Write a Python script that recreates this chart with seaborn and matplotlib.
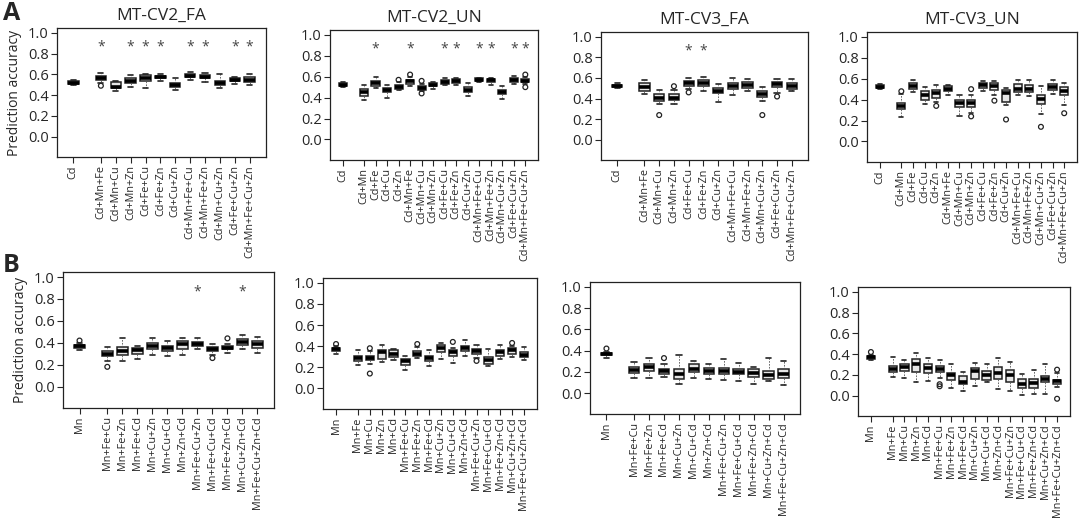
import numpy as np
import pandas as pd
import matplotlib
matplotlib.use("Agg")
import matplotlib.pyplot as plt
import seaborn as sns

# ---------- Tick labels ----------
CD_SHORT = ["Cd", "Cd+Mn+Fe", "Cd+Mn+Cu", "Cd+Mn+Zn", "Cd+Fe+Cu", "Cd+Fe+Zn",
            "Cd+Cu+Zn", "Cd+Mn+Fe+Cu", "Cd+Mn+Fe+Zn", "Cd+Mn+Cu+Zn",
            "Cd+Fe+Cu+Zn", "Cd+Mn+Fe+Cu+Zn"]
CD_LONG = ["Cd", "Cd+Mn", "Cd+Fe", "Cd+Cu", "Cd+Zn", "Cd+Mn+Fe", "Cd+Mn+Cu",
           "Cd+Mn+Zn", "Cd+Fe+Cu", "Cd+Fe+Zn", "Cd+Cu+Zn", "Cd+Mn+Fe+Cu",
           "Cd+Mn+Fe+Zn", "Cd+Mn+Cu+Zn", "Cd+Fe+Cu+Zn", "Cd+Mn+Fe+Cu+Zn"]
MN_SHORT = ["Mn", "Mn+Fe+Cu", "Mn+Fe+Zn", "Mn+Fe+Cd", "Mn+Cu+Zn", "Mn+Cu+Cd",
            "Mn+Zn+Cd", "Mn+Fe+Cu+Zn", "Mn+Fe+Cu+Cd", "Mn+Fe+Zn+Cd",
            "Mn+Cu+Zn+Cd", "Mn+Fe+Cu+Zn+Cd"]
MN_LONG = ["Mn", "Mn+Fe", "Mn+Cu", "Mn+Zn", "Mn+Cd", "Mn+Fe+Cu", "Mn+Fe+Zn",
           "Mn+Fe+Cd", "Mn+Cu+Zn", "Mn+Cu+Cd", "Mn+Zn+Cd", "Mn+Fe+Cu+Zn",
           "Mn+Fe+Cu+Cd", "Mn+Fe+Zn+Cd", "Mn+Cu+Zn+Cd", "Mn+Fe+Cu+Zn+Cd"]

TITLES = ["MT-CV2_FA", "MT-CV2_UN", "MT-CV3_FA", "MT-CV3_UN"]

# ---------- Box stats: (low whisker, q1, median, q3, high whisker) ----------
A_CV2_FA = [(0.50, 0.51, 0.52, 0.535, 0.55), (0.52, 0.55, 0.565, 0.58, 0.61),
            (0.44, 0.465, 0.48, 0.525, 0.54), (0.48, 0.52, 0.54, 0.56, 0.59),
            (0.47, 0.54, 0.565, 0.59, 0.60), (0.54, 0.56, 0.57, 0.585, 0.60),
            (0.45, 0.48, 0.50, 0.52, 0.56), (0.55, 0.57, 0.585, 0.60, 0.62),
            (0.53, 0.56, 0.575, 0.59, 0.61), (0.47, 0.50, 0.52, 0.54, 0.60),
            (0.51, 0.535, 0.545, 0.56, 0.57), (0.50, 0.53, 0.55, 0.57, 0.60)]
A_CV2_UN = [(0.50, 0.51, 0.52, 0.535, 0.55), (0.38, 0.42, 0.45, 0.48, 0.52),
            (0.49, 0.51, 0.54, 0.56, 0.60), (0.40, 0.45, 0.47, 0.49, 0.52),
            (0.47, 0.48, 0.50, 0.52, 0.55), (0.51, 0.53, 0.555, 0.57, 0.60),
            (0.46, 0.47, 0.49, 0.51, 0.53), (0.48, 0.51, 0.525, 0.54, 0.55),
            (0.52, 0.53, 0.55, 0.57, 0.59), (0.52, 0.54, 0.56, 0.575, 0.59),
            (0.42, 0.45, 0.475, 0.50, 0.54), (0.55, 0.56, 0.57, 0.585, 0.59),
            (0.52, 0.55, 0.565, 0.58, 0.59), (0.39, 0.43, 0.45, 0.47, 0.51),
            (0.53, 0.55, 0.565, 0.585, 0.61), (0.53, 0.55, 0.56, 0.58, 0.60)]
A_CV3_FA = [(0.50, 0.51, 0.52, 0.53, 0.55), (0.44, 0.47, 0.51, 0.55, 0.58),
            (0.35, 0.38, 0.41, 0.44, 0.48), (0.35, 0.39, 0.41, 0.44, 0.48),
            (0.49, 0.52, 0.55, 0.57, 0.60), (0.47, 0.52, 0.55, 0.58, 0.61),
            (0.37, 0.45, 0.47, 0.50, 0.54), (0.43, 0.49, 0.52, 0.55, 0.60),
            (0.47, 0.50, 0.53, 0.56, 0.59), (0.38, 0.42, 0.44, 0.47, 0.51),
            (0.45, 0.51, 0.54, 0.56, 0.59), (0.47, 0.49, 0.52, 0.55, 0.59)]
A_CV3_UN = [(0.50, 0.51, 0.52, 0.535, 0.55), (0.23, 0.31, 0.34, 0.37, 0.45),
            (0.47, 0.50, 0.53, 0.56, 0.59), (0.36, 0.40, 0.44, 0.48, 0.52),
            (0.38, 0.42, 0.46, 0.49, 0.54), (0.44, 0.48, 0.50, 0.53, 0.54),
            (0.24, 0.33, 0.37, 0.40, 0.44), (0.27, 0.33, 0.37, 0.40, 0.44),
            (0.48, 0.51, 0.54, 0.56, 0.58), (0.44, 0.49, 0.53, 0.56, 0.58),
            (0.35, 0.38, 0.46, 0.49, 0.51), (0.44, 0.47, 0.50, 0.55, 0.59),
            (0.43, 0.47, 0.50, 0.54, 0.59), (0.26, 0.36, 0.41, 0.44, 0.53),
            (0.45, 0.49, 0.52, 0.55, 0.59), (0.35, 0.44, 0.48, 0.52, 0.56)]
B_CV2_FA = [(0.33, 0.355, 0.37, 0.38, 0.40), (0.23, 0.28, 0.30, 0.32, 0.36),
            (0.23, 0.29, 0.32, 0.36, 0.44), (0.25, 0.30, 0.33, 0.35, 0.37),
            (0.29, 0.34, 0.37, 0.40, 0.44), (0.28, 0.32, 0.35, 0.37, 0.42),
            (0.29, 0.34, 0.39, 0.42, 0.44), (0.34, 0.37, 0.39, 0.41, 0.44),
            (0.29, 0.32, 0.34, 0.36, 0.39), (0.31, 0.34, 0.355, 0.37, 0.39),
            (0.34, 0.38, 0.41, 0.43, 0.47), (0.31, 0.35, 0.39, 0.42, 0.45)]
B_CV2_UN = [(0.33, 0.355, 0.37, 0.38, 0.40), (0.22, 0.26, 0.29, 0.31, 0.36),
            (0.23, 0.27, 0.29, 0.31, 0.35), (0.25, 0.28, 0.34, 0.36, 0.41),
            (0.27, 0.30, 0.33, 0.36, 0.37), (0.17, 0.22, 0.26, 0.28, 0.31),
            (0.29, 0.31, 0.33, 0.35, 0.39), (0.21, 0.26, 0.29, 0.31, 0.36),
            (0.28, 0.34, 0.38, 0.41, 0.43), (0.24, 0.31, 0.34, 0.36, 0.38),
            (0.31, 0.35, 0.38, 0.40, 0.46), (0.29, 0.33, 0.35, 0.37, 0.41),
            (0.21, 0.23, 0.27, 0.30, 0.37), (0.28, 0.31, 0.34, 0.36, 0.41),
            (0.30, 0.33, 0.36, 0.38, 0.40), (0.27, 0.30, 0.32, 0.34, 0.39)]
B_CV3_FA = [(0.33, 0.355, 0.37, 0.38, 0.39), (0.14, 0.19, 0.22, 0.25, 0.29),
            (0.14, 0.21, 0.245, 0.27, 0.33), (0.15, 0.18, 0.21, 0.23, 0.27),
            (0.09, 0.13, 0.18, 0.23, 0.36), (0.14, 0.20, 0.23, 0.27, 0.30),
            (0.13, 0.18, 0.21, 0.24, 0.27), (0.12, 0.18, 0.21, 0.24, 0.32),
            (0.11, 0.18, 0.20, 0.23, 0.28), (0.09, 0.15, 0.19, 0.23, 0.25),
            (0.11, 0.13, 0.17, 0.21, 0.33), (0.08, 0.14, 0.18, 0.23, 0.30)]
B_CV3_UN = [(0.34, 0.355, 0.37, 0.38, 0.39), (0.18, 0.23, 0.26, 0.29, 0.37),
            (0.17, 0.24, 0.28, 0.30, 0.34), (0.13, 0.23, 0.30, 0.35, 0.41),
            (0.14, 0.22, 0.27, 0.30, 0.36), (0.17, 0.23, 0.26, 0.29, 0.34),
            (0.07, 0.15, 0.20, 0.22, 0.30), (0.04, 0.11, 0.13, 0.19, 0.23),
            (0.09, 0.16, 0.24, 0.27, 0.31), (0.13, 0.15, 0.20, 0.24, 0.30),
            (0.06, 0.16, 0.22, 0.28, 0.36), (0.04, 0.13, 0.20, 0.25, 0.32),
            (0.01, 0.07, 0.11, 0.16, 0.21), (0.02, 0.07, 0.12, 0.16, 0.25),
            (0.02, 0.13, 0.16, 0.19, 0.30), (0.08, 0.11, 0.14, 0.15, 0.22)]

# ---------- Outliers: (box index, value) ----------
A_CV2_FA_OUT = [(1, 0.49)]
A_CV2_UN_OUT = [(4, 0.57), (5, 0.62), (6, 0.44), (6, 0.56), (15, 0.50), (15, 0.62)]
A_CV3_FA_OUT = [(2, 0.24), (3, 0.52), (4, 0.46), (9, 0.24), (10, 0.42)]
A_CV3_UN_OUT = [(1, 0.48), (4, 0.34), (7, 0.24), (7, 0.50), (9, 0.39),
                (10, 0.21), (13, 0.14), (15, 0.27)]
B_CV2_FA_OUT = [(0, 0.42), (1, 0.18), (8, 0.26), (9, 0.44)]
B_CV2_UN_OUT = [(0, 0.42), (2, 0.14), (2, 0.38), (6, 0.42), (9, 0.44),
                (11, 0.26), (14, 0.43)]
B_CV3_FA_OUT = [(0, 0.42), (3, 0.33)]
B_CV3_UN_OUT = [(0, 0.42), (5, 0.11), (5, 0.09), (15, 0.25), (15, -0.03)]

# ---------- Significance stars (box index) ----------
A_CV2_FA_STAR = [1, 3, 4, 5, 7, 8, 10, 11]
A_CV2_UN_STAR = [2, 5, 8, 9, 11, 12, 14, 15]
A_CV3_FA_STAR = [4, 5]
B_CV2_FA_STAR = [7, 10]

# ---------- Style ----------
GAP = 1.85
MARGIN = 1.1
BOX_FILL = "#e6e6e6"
W, H = 1079, 520

sns.set_style("ticks")
plt.rcParams["font.family"] = ["Open Sans", "DejaVu Sans"]


def box_positions(n):
    return np.array([0.0] + [GAP + i for i in range(n - 1)])


def draw_panel(ax, labels, boxes, outliers, stars, title=None, ylabel=None):
    pos = box_positions(len(labels))
    df = pd.DataFrame({
        "pos": np.repeat(pos, 5),
        "value": np.concatenate([list(b) for b in boxes]),
    })
    sns.boxplot(data=df, x="pos", y="value", native_scale=True, whis=(0, 100),
                width=0.7, color=BOX_FILL, saturation=1, linecolor="#222222",
                linewidth=1.1, showfliers=False,
                medianprops=dict(linewidth=2.6, color="black", solid_capstyle="butt"),
                whiskerprops=dict(linewidth=0.6, linestyle=(0, (2, 1.5)), color="#555555"),
                capprops=dict(linewidth=1.2, color="#222222"),
                ax=ax)
    if outliers:
        out = pd.DataFrame({
            "pos": pos[[i for i, _ in outliers]],
            "value": [v for _, v in outliers],
        })
        sns.scatterplot(data=out, x="pos", y="value", marker="o", s=12,
                        facecolor="none", edgecolor="#222222", linewidth=0.9,
                        ax=ax, zorder=5)
    for i in stars:
        ax.text(pos[i], 0.86, "*", ha="center", va="center", fontsize=10,
                color="#444444")

    ax.set_xlim(pos[0] - MARGIN, pos[-1] + MARGIN)
    ax.set_ylim(-0.196, 1.046)
    yt = np.arange(0, 1.01, 0.2)
    ax.set_yticks(yt)
    ax.set_yticklabels([f"{t:.1f}" for t in yt], fontsize=10.5)
    ax.set_xticks(pos)
    ax.set_xticklabels(labels, rotation=90, fontsize=7.8)
    ax.tick_params(direction="out", length=4, width=0.8, pad=2)
    ax.set_xlabel("")
    ax.set_ylabel(ylabel if ylabel else "", fontsize=10)
    for s in ax.spines.values():
        s.set_visible(True)
        s.set_linewidth(0.9)
        s.set_color("#222222")
    if title:
        ax.set_title(title, fontsize=12.5, pad=6)


def add_axes_px(fig, left, top, right, bottom):
    return fig.add_axes([left / W, 1 - bottom / H, (right - left) / W, (bottom - top) / H])


fig = plt.figure(figsize=(W / 100, H / 100), dpi=100)

rects = [(57, 28, 266, 157), (330, 30, 538, 160), (601, 32, 808, 160), (867, 32, 1077, 162),
         (63, 272, 274, 408), (323, 278, 537, 409), (590, 282, 800, 414), (858, 287, 1070, 416)]

panels = [
    (CD_SHORT, A_CV2_FA, A_CV2_FA_OUT, A_CV2_FA_STAR),
    (CD_LONG, A_CV2_UN, A_CV2_UN_OUT, A_CV2_UN_STAR),
    (CD_SHORT, A_CV3_FA, A_CV3_FA_OUT, A_CV3_FA_STAR),
    (CD_LONG, A_CV3_UN, A_CV3_UN_OUT, []),
    (MN_SHORT, B_CV2_FA, B_CV2_FA_OUT, B_CV2_FA_STAR),
    (MN_LONG, B_CV2_UN, B_CV2_UN_OUT, []),
    (MN_SHORT, B_CV3_FA, B_CV3_FA_OUT, []),
    (MN_LONG, B_CV3_UN, B_CV3_UN_OUT, []),
]

for k, (rect, (labels, boxes, outs, stars)) in enumerate(zip(rects, panels)):
    ax = add_axes_px(fig, *rect)
    draw_panel(ax, labels, boxes, outs, stars,
               title=TITLES[k] if k < 4 else None,
               ylabel="Prediction accuracy" if k % 4 == 0 else None)

fig.text(3 / W, 1 - 13 / H, "A", fontsize=18, fontweight="bold", va="center", ha="left")
fig.text(3 / W, 1 - 266 / H, "B", fontsize=18, fontweight="bold", va="center", ha="left")

fig.savefig("out.png", dpi=100)
